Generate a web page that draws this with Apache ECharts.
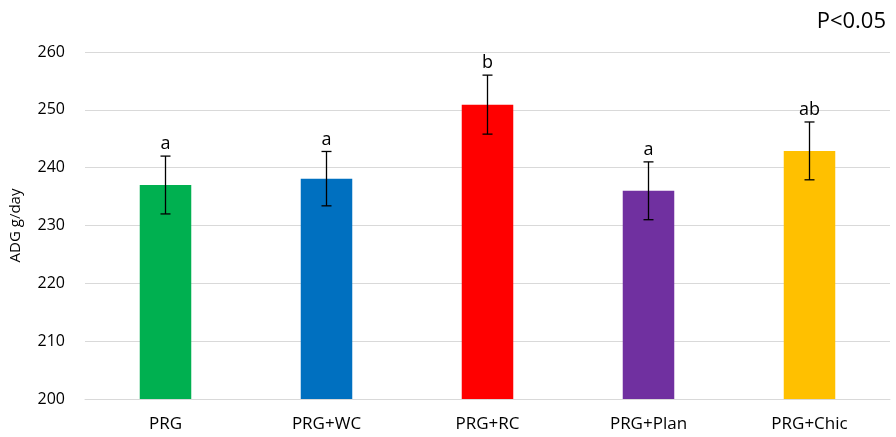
<!DOCTYPE html>
<html><head><meta charset="utf-8">
<script src="https://cdn.jsdelivr.net/npm/echarts@6/dist/echarts.min.js"></script>
<style>html,body{margin:0;padding:0;background:#fff}#c{width:896px;height:437px}</style>
</head><body><div id="c"></div>
<script>
const categories = ['PRG', 'PRG+WC', 'PRG+RC', 'PRG+Plan', 'PRG+Chic'];
const means = [237, 238.1, 250.9, 236, 242.9];
const errors = [5, 4.7, 5.1, 5, 5];
const letters = ['a', 'a', 'b', 'a', 'ab'];
const colors = ['#00B050', '#0070C0', '#FF0000', '#7030A0', '#FFC000'];
const yTicks = [200, 210, 220, 230, 240, 250, 260];

const font = 'Open Sans, Noto Sans, sans-serif';
const chart = echarts.init(document.getElementById('c'));
chart.setOption({
  animation: false,
  grid: { left: 84, right: 6, top: 52, bottom: 38 },
  title: { text: 'P<0.05', right: 5, top: 6, textStyle: { fontFamily: font, fontSize: 22, fontWeight: 'normal', color: '#000' } },
  xAxis: {
    type: 'category', data: categories,
    axisLine: { lineStyle: { color: '#d9d9d9' } }, axisTick: { show: false },
    axisLabel: { color: '#000', fontFamily: font, fontSize: 17, margin: 17 }
  },
  yAxis: {
    type: 'value', min: yTicks[0], max: yTicks[yTicks.length - 1], interval: 10,
    name: 'ADG g/day', nameLocation: 'middle', nameGap: 62,
    nameTextStyle: { color: '#000', fontFamily: font, fontSize: 15 },
    axisLine: { show: false }, axisTick: { show: false },
    axisLabel: { color: '#000', fontFamily: font, fontSize: 16, margin: 20 },
    splitLine: { lineStyle: { color: '#d9d9d9' } }
  },
  series: [
    {
      type: 'bar', barWidth: '32%',
      data: means.map((v, i) => ({ value: v, itemStyle: { color: colors[i] } }))
    },
    {
      type: 'custom', z: 10,
      data: means.map((v, i) => [i, v - errors[i], v + errors[i]]),
      renderItem: function (params, api) {
        const x = api.value(0);
        const lo = api.coord([x, api.value(1)]);
        const hi = api.coord([x, api.value(2)]);
        const cap = 5;
        const st = { stroke: '#000', lineWidth: 1.3 };
        return {
          type: 'group', children: [
            { type: 'line', shape: { x1: hi[0], y1: hi[1], x2: lo[0], y2: lo[1] }, style: st },
            { type: 'line', shape: { x1: hi[0] - cap, y1: hi[1], x2: hi[0] + cap, y2: hi[1] }, style: st },
            { type: 'line', shape: { x1: lo[0] - cap, y1: lo[1], x2: lo[0] + cap, y2: lo[1] }, style: st },
            { type: 'text', x: hi[0], y: hi[1] - 3, style: { text: letters[params.dataIndex], fill: '#000', font: '18px ' + font, align: 'center', verticalAlign: 'bottom' } }
          ]
        };
      }
    }
  ]
});
</script></body></html>
